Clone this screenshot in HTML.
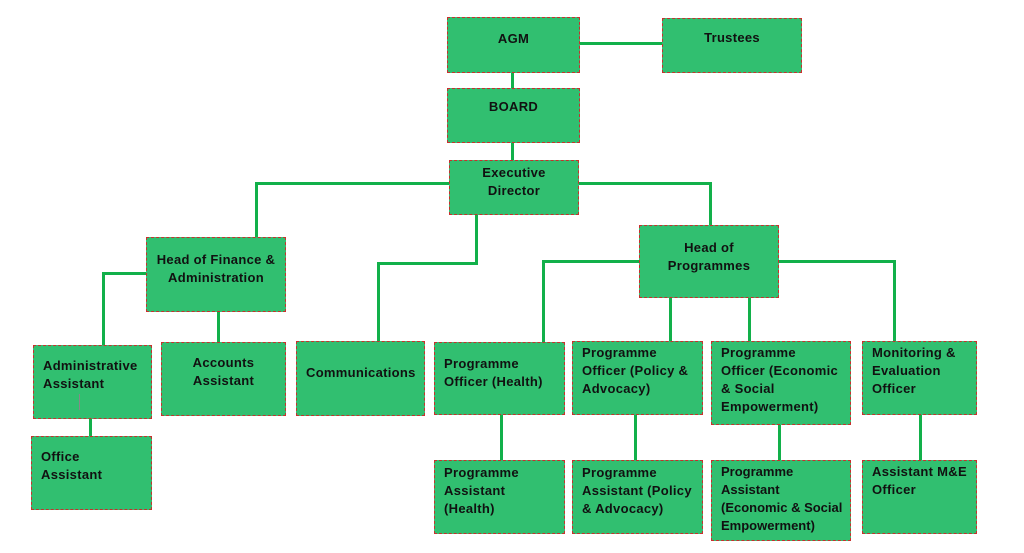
<!DOCTYPE html>
<html><head><meta charset="utf-8"><style>
body{margin:0;width:1024px;height:553px;background:#fff;position:relative;overflow:hidden;font-family:"Liberation Sans",sans-serif;}
.b{position:absolute;box-sizing:border-box;background:#31bf70;border:1px dashed #c8302e;font-weight:bold;font-size:13px;letter-spacing:0.3px;line-height:18px;color:#111;padding:2px 9px;white-space:nowrap;}
.c{text-align:center;padding-left:2px;padding-right:2px;}
.l{position:absolute;background:#12b04a;}
</style></head><body>
<div class="l" style="left:580px;top:42px;width:82px;height:3px"></div>
<div class="l" style="left:511px;top:73px;width:3px;height:15px"></div>
<div class="l" style="left:511px;top:143px;width:3px;height:17px"></div>
<div class="l" style="left:255px;top:182px;width:194px;height:3px"></div>
<div class="l" style="left:255px;top:182px;width:3px;height:55px"></div>
<div class="l" style="left:579px;top:182px;width:133px;height:3px"></div>
<div class="l" style="left:709px;top:182px;width:3px;height:43px"></div>
<div class="l" style="left:475px;top:215px;width:3px;height:49px"></div>
<div class="l" style="left:377px;top:262px;width:101px;height:3px"></div>
<div class="l" style="left:377px;top:262px;width:3px;height:79px"></div>
<div class="l" style="left:102px;top:272px;width:44px;height:3px"></div>
<div class="l" style="left:102px;top:272px;width:3px;height:73px"></div>
<div class="l" style="left:217px;top:312px;width:3px;height:30px"></div>
<div class="l" style="left:89px;top:419px;width:3px;height:17px"></div>
<div class="l" style="left:542px;top:260px;width:97px;height:3px"></div>
<div class="l" style="left:542px;top:260px;width:3px;height:82px"></div>
<div class="l" style="left:779px;top:260px;width:117px;height:3px"></div>
<div class="l" style="left:893px;top:260px;width:3px;height:82px"></div>
<div class="l" style="left:669px;top:298px;width:3px;height:44px"></div>
<div class="l" style="left:748px;top:298px;width:3px;height:44px"></div>
<div class="l" style="left:500px;top:415px;width:3px;height:45px"></div>
<div class="l" style="left:634px;top:415px;width:3px;height:45px"></div>
<div class="l" style="left:778px;top:425px;width:3px;height:35px"></div>
<div class="l" style="left:919px;top:415px;width:3px;height:45px"></div>
<div class="b c" style="left:447px;top:17px;width:133px;height:56px;padding-top:12px">AGM</div>
<div class="b c" style="left:662px;top:18px;width:140px;height:55px;padding-top:10px">Trustees</div>
<div class="b c" style="left:447px;top:88px;width:133px;height:55px;padding-top:9px">BOARD</div>
<div class="b c" style="left:449px;top:160px;width:130px;height:55px;padding-top:3px">Executive<br>Director</div>
<div class="b c" style="left:146px;top:237px;width:140px;height:75px;padding-top:13px">Head of Finance &amp;<br>Administration</div>
<div class="b c" style="left:639px;top:225px;width:140px;height:73px;padding-top:13px">Head of<br>Programmes</div>
<div class="b" style="left:33px;top:345px;width:119px;height:74px;padding-top:11px">Administrative<br>Assistant</div>
<div class="l" style="left:79px;top:394px;width:1px;height:16px;background:#888"></div>
<div class="b c" style="left:161px;top:342px;width:125px;height:74px;padding-top:11px">Accounts<br>Assistant</div>
<div class="b" style="left:296px;top:341px;width:129px;height:75px;padding-top:22px">Communications</div>
<div class="b" style="left:434px;top:342px;width:131px;height:73px;padding-top:12px">Programme<br>Officer (Health)</div>
<div class="b" style="left:572px;top:341px;width:131px;height:74px;padding-top:2px">Programme<br>Officer (Policy &amp;<br>Advocacy)</div>
<div class="b" style="left:711px;top:341px;width:140px;height:84px;padding-top:2px">Programme<br>Officer (Economic<br>&amp; Social<br>Empowerment)</div>
<div class="b" style="left:862px;top:341px;width:115px;height:74px;padding-top:2px">Monitoring &amp;<br>Evaluation<br>Officer</div>
<div class="b" style="left:31px;top:436px;width:121px;height:74px;padding-top:11px">Office<br>Assistant</div>
<div class="b" style="left:434px;top:460px;width:131px;height:74px;padding-top:3px">Programme<br>Assistant<br>(Health)</div>
<div class="b" style="left:572px;top:460px;width:131px;height:74px;padding-top:3px">Programme<br>Assistant (Policy<br>&amp; Advocacy)</div>
<div class="b" style="left:711px;top:460px;width:140px;height:81px;padding-top:2px;letter-spacing:0">Programme<br>Assistant<br>(Economic &amp; Social<br>Empowerment)</div>
<div class="b" style="left:862px;top:460px;width:115px;height:74px;padding-top:2px">Assistant M&amp;E<br>Officer</div>
</body></html>
